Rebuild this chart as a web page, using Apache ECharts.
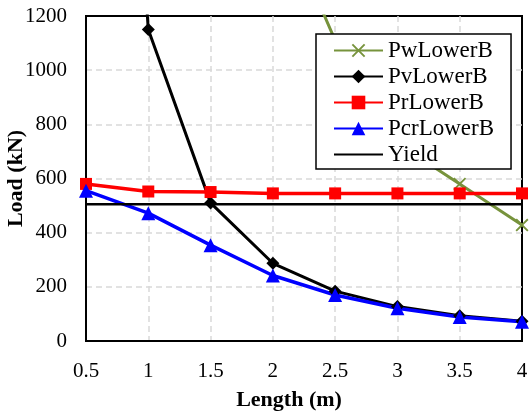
<!DOCTYPE html>
<html>
<head>
<meta charset="utf-8">
<script src="https://cdn.jsdelivr.net/npm/echarts@6/dist/echarts.min.js"></script>
<style>
  html, body { margin: 0; padding: 0; background: #fff; }
  #chart { width: 532px; height: 415px; }
</style>
</head>
<body>
<div id="chart"></div>
<script>
const lengths = [0.5, 1, 1.5, 2, 2.5, 3, 3.5, 4];
const pwLowerB = [26000, 6500, 2900, 1640, 1110, 730, 580, 428];
const pvLowerB = [4600, 1150, 510, 287, 184, 127, 93, 73];
const prLowerB = [580, 552, 550, 545, 545, 545, 545, 545];
const pcrLowerB = [555, 472, 354, 242, 170, 121, 89, 71];
const yieldLoad = 505;

const font = "'Liberation Serif', 'Times New Roman', serif";
const pairs = vals => lengths.map((x, i) => [x, vals[i]]);
const cross = 'path://M0,1L1,0L5,4L9,0L10,1L6,5L10,9L9,10L5,6L1,10L0,9L4,5Z';
const gridLine = { lineStyle: { color: '#d9d9d9', width: 1.5, type: [6, 4] }, showMinLine: false, showMaxLine: false };

const chart = echarts.init(document.getElementById('chart'));

chart.setOption({
    backgroundColor: '#fff',
    animation: false,
    textStyle: { fontFamily: font, color: '#000' },
    grid: {
        left: 86, right: 10, top: 16, bottom: 74,
        containLabel: false, outerBoundsMode: 'none',
        show: true, borderColor: '#000', borderWidth: 2
    },
    legend: {
        left: 316, top: 34,
        orient: 'vertical',
        backgroundColor: '#fff',
        borderColor: '#000',
        borderWidth: 1.5,
        borderRadius: 0,
        padding: [5, 17, 3, 17],
        itemWidth: 49,
        itemHeight: 17,
        itemGap: 3,
        textStyle: { fontFamily: font, fontSize: 23, color: '#000', lineHeight: 22 },
        data: ['PwLowerB', 'PvLowerB', 'PrLowerB', 'PcrLowerB',
            { name: 'Yield', itemStyle: { opacity: 0 } }]
    },
    xAxis: {
        type: 'value',
        min: 0.5, max: 4, interval: 0.5,
        name: 'Length (m)',
        nameLocation: 'middle',
        nameGap: 48,
        nameMoveOverlap: false,
        nameTextStyle: { fontFamily: font, fontSize: 22, fontWeight: 'bold', color: '#000', padding: [0, 30, 0, 0] },
        axisLine: { lineStyle: { color: '#000', width: 2 } },
        axisTick: { show: false },
        axisLabel: { fontFamily: font, fontSize: 21, color: '#000', margin: 20 },
        splitLine: gridLine
    },
    yAxis: {
        type: 'value',
        min: 0, max: 1200, interval: 200,
        name: 'Load (kN)',
        nameLocation: 'middle',
        nameGap: 59,
        nameMoveOverlap: false,
        nameTextStyle: { fontFamily: font, fontSize: 22, fontWeight: 'bold', color: '#000' },
        axisLine: { show: true, lineStyle: { color: '#000', width: 2 } },
        axisTick: { show: false },
        axisLabel: { fontFamily: font, fontSize: 21, color: '#000', margin: 19, formatter: v => String(v) },
        splitLine: gridLine
    },
    series: [
        {
            name: 'PwLowerB', type: 'line', data: pairs(pwLowerB),
            symbol: cross, symbolSize: 13, color: '#77933c',
            lineStyle: { width: 3, color: '#77933c' },
            itemStyle: { color: '#77933c' }
        },
        {
            name: 'PvLowerB', type: 'line', data: pairs(pvLowerB),
            symbol: 'diamond', symbolSize: 13, color: '#000',
            lineStyle: { width: 3, color: '#000' },
            itemStyle: { color: '#000' }
        },
        {
            name: 'PrLowerB', type: 'line', data: pairs(prLowerB),
            symbol: 'rect', symbolSize: 12, color: '#ff0000',
            lineStyle: { width: 3.5, color: '#ff0000' },
            itemStyle: { color: '#ff0000' }
        },
        {
            name: 'PcrLowerB', type: 'line', data: pairs(pcrLowerB),
            symbol: 'triangle', symbolSize: 14, color: '#0000ff',
            lineStyle: { width: 3.5, color: '#0000ff' },
            itemStyle: { color: '#0000ff' }
        },
        {
            name: 'Yield', type: 'line',
            data: [[lengths[0], yieldLoad], [lengths[lengths.length - 1], yieldLoad]],
            symbol: 'none', color: '#000',
            lineStyle: { width: 2.5, color: '#000' }
        }
    ]
});
</script>
</body>
</html>
